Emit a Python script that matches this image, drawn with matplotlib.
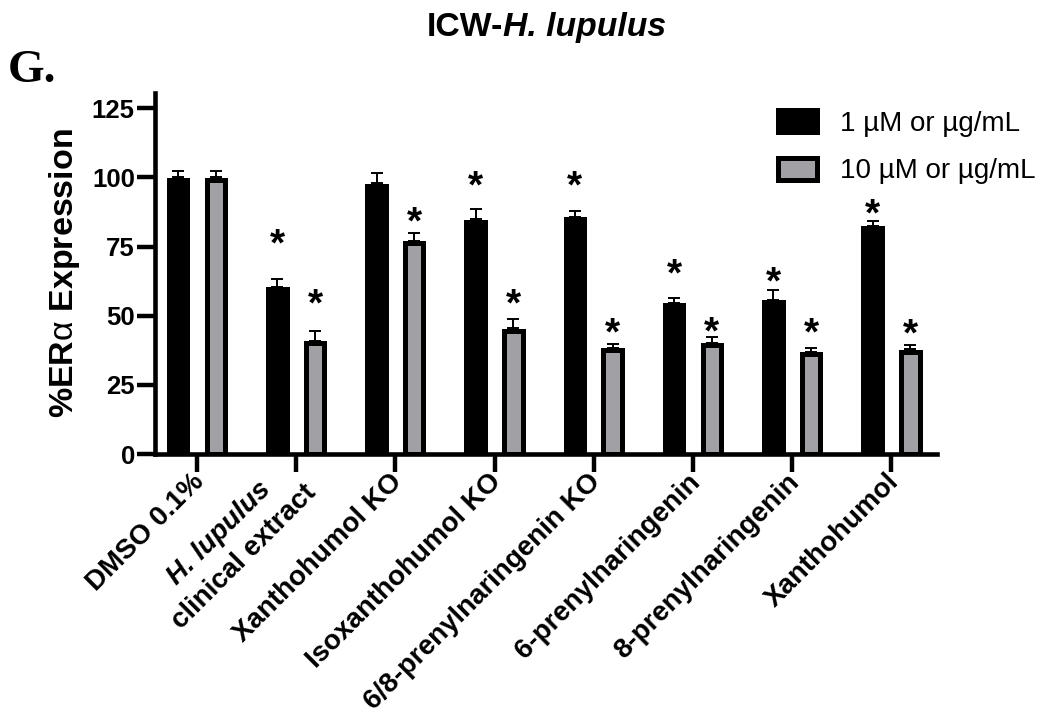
import matplotlib
matplotlib.use('Agg')
import matplotlib.pyplot as plt
import numpy as np
from matplotlib.transforms import ScaledTranslation

plt.rcParams['font.family'] = ['Liberation Sans', 'DejaVu Sans']
plt.rcParams['mathtext.fontset'] = 'custom'
plt.rcParams['mathtext.rm'] = 'Liberation Sans'
plt.rcParams['mathtext.it'] = 'Liberation Sans:italic'
plt.rcParams['mathtext.bf'] = 'Liberation Sans:bold'

# ---------------- data ----------------
categories = ['DMSO 0.1%', 'H. lupulus\nclinical extract', 'Xanthohumol KO',
              'Isoxanthohumol KO', '6/8-prenylnaringenin KO',
              '6-prenylnaringenin', '8-prenylnaringenin', 'Xanthohumol']
series_labels = ['1 µM or µg/mL', '10 µM or µg/mL']
low_dose = [100.0, 60.5, 97.8, 84.8, 85.8, 54.7, 55.7, 82.6]
low_err = [2.4, 2.6, 3.9, 3.6, 2.1, 1.6, 3.7, 1.7]
high_dose = [100.0, 40.9, 77.1, 45.4, 38.4, 40.2, 37.0, 37.9]
high_err = [2.4, 3.7, 2.9, 3.4, 1.5, 2.2, 1.3, 1.5]
low_star = [None, 78.4, None, 99.3, 99.3, 67.7, 64.7, 89.2]
high_star = [None, 56.8, 86.4, 56.8, 46.3, 46.4, 46.3, 46.0]
yticks = [0, 25, 50, 75, 100, 125]
title_plain = 'ICW-'
title_italic = 'H. lupulus'
ylabel = '%ER$\\mathrm{\\alpha}$ Expression'
panel_letter = 'G.'

# ---------------- figure ----------------
fig = plt.figure(figsize=(10.48, 7.14), dpi=100)
ax = fig.add_axes([0.1479, 0.3641, 0.7462, 0.5056])
ax.set_xlim(-0.423, 7.46)
ax.set_ylim(0, 130.5)

x = np.arange(len(categories))
off = 0.19
w = 0.187
gray = '#a0a0a5'
edge_lw = 3.6
# keep the outer edge of each bar at its value (edge drawn inside, like Prism)
px_per_unit = ax.transData.transform((0, 1))[1] - ax.transData.transform((0, 0))[1]
inset = (edge_lw / 72 * fig.dpi / 2) / px_per_unit
b1 = ax.bar(x - off, np.array(low_dose) - inset, w, color='black', edgecolor='black',
            linewidth=edge_lw, label=series_labels[0], zorder=2)
b2 = ax.bar(x + off, np.array(high_dose) - inset, w, color=gray, edgecolor='black',
            linewidth=edge_lw, label=series_labels[1], zorder=2)
ax.errorbar(x - off, low_dose, yerr=[np.zeros(len(x)), low_err], fmt='none',
            ecolor='black', elinewidth=1.4, capsize=4.3, capthick=1.4, zorder=1)
ax.errorbar(x + off, high_dose, yerr=[np.zeros(len(x)), high_err], fmt='none',
            ecolor='black', elinewidth=1.4, capsize=4.3, capthick=1.4, zorder=1)

star_fs = 28
for xs, stars in ((x - off, low_star), (x + off, high_star)):
    for xi, s in zip(xs, stars):
        if s is None:
            continue
        ax.annotate('*', xy=(xi, s), xytext=(0, -0.47 * star_fs), textcoords='offset points',
                    ha='center', va='baseline', fontsize=star_fs, fontweight='bold')

for side in ('top', 'right'):
    ax.spines[side].set_visible(False)
for side in ('left', 'bottom'):
    ax.spines[side].set_linewidth(3.3)

ax.set_yticks(yticks)
ax.tick_params(axis='y', length=13, width=3.2, labelsize=18.5, pad=1.5)
for lbl in ax.get_yticklabels():
    lbl.set_fontweight('bold')

xfs = 20.0
ax.set_xticks(x)
tick_texts = [c if '\n' not in c else '' for c in categories]
ax.set_xticklabels(tick_texts)
ax.tick_params(axis='x', length=13, width=3.2, labelsize=xfs, pad=0)
shift = ScaledTranslation(-6 / 100, 3 / 100, fig.dpi_scale_trans)
for lbl in ax.get_xticklabels():
    lbl.set_rotation(45)
    lbl.set_ha('right')
    lbl.set_va('top')
    lbl.set_rotation_mode('anchor')
    lbl.set_fontweight('bold')
    lbl.set_transform(lbl.get_transform() + shift)

# two-line label with mixed styles
for i, c in enumerate(categories):
    if '\n' in c:
        l1, l2 = c.split('\n')
        ax.annotate(l1, xy=(x[i], 0), xycoords=ax.get_xaxis_transform(),
                    xytext=(-55.4, -56.9), textcoords='offset points',
                    rotation=45, rotation_mode='anchor', ha='center', va='center',
                    fontsize=xfs, fontweight='bold', fontstyle='italic',
                    annotation_clip=False)
        ax.annotate(l2, xy=(x[i], 0), xycoords=ax.get_xaxis_transform(),
                    xytext=(-37.4, -74.2), textcoords='offset points',
                    rotation=45, rotation_mode='anchor', ha='center', va='center',
                    fontsize=xfs, fontweight='bold', annotation_clip=False)

ax.set_ylabel(ylabel, fontsize=24.5, fontweight='bold')
ax.yaxis.set_label_coords(-0.0933, 0.5)

leg = ax.legend(handles=[b1, b2], labels=series_labels, loc='upper left',
                bbox_to_anchor=(778 / 1048, 1 - 110 / 714),
                bbox_transform=fig.transFigure, frameon=False, fontsize=20,
                handlelength=1.40, handleheight=0.83, handletextpad=0.85,
                labelspacing=0.77, borderpad=0, borderaxespad=0)

fig.text(503.4 / 1048, 1 - 36 / 714, title_plain, ha='right', va='baseline',
         fontsize=24.3, fontweight='bold')
fig.text(503.4 / 1048, 1 - 36 / 714, title_italic, ha='left', va='baseline',
         fontsize=24.3, fontweight='bold', fontstyle='italic')
fig.text(8 / 1048, 1 - 82 / 714, panel_letter, ha='left', va='baseline',
         fontsize=34, fontweight='bold', family='Liberation Serif')

fig.savefig('out.png', dpi=100)
